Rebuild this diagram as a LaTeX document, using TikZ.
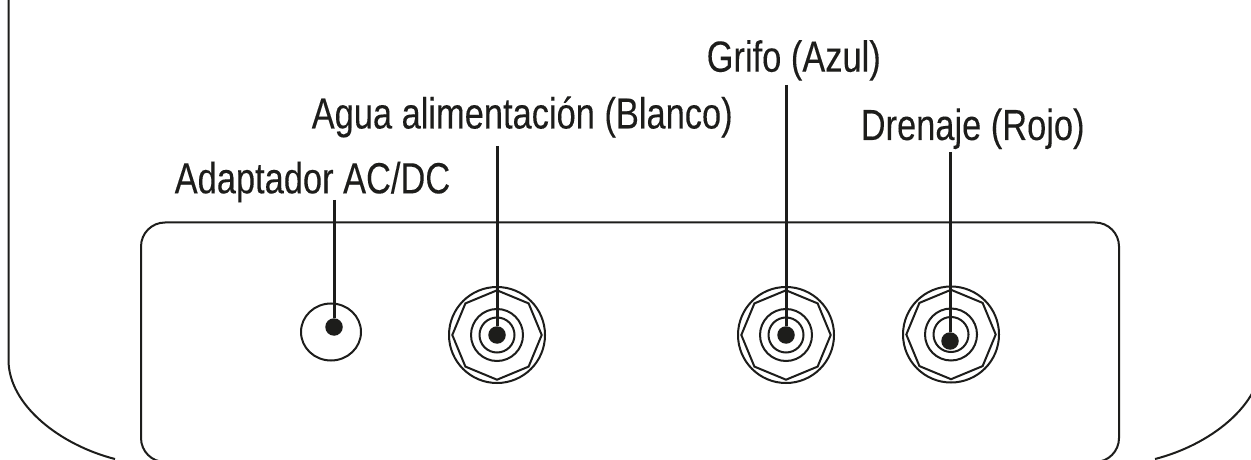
\documentclass[tikz,border=0pt]{standalone}
\usepackage{fontspec}
\setmainfont[FakeStretch=0.79,FakeBold=0.12]{Liberation Sans}
\usetikzlibrary{calc}
\definecolor{inkblack}{HTML}{1D1D1B}
\tikzset{
	thinline/.style={line width=0.2mm, color=inkblack},
	leader/.style={line width=0.3mm, color=inkblack},
	dotmark/.style={circle, fill=inkblack, inner sep=0pt, minimum size=0.175cm},
	caption/.style={anchor=base west, inner sep=0pt, text=inkblack, font=\fontsize{12.4pt}{14pt}\selectfont},
}
% fitting with its rings and the eight-sided nut
\def\fitting(#1){
	\draw[thinline] (#1) circle (0.48);
	\draw[thinline] (#1) circle (0.26);
	\draw[thinline] (#1) circle (0.175);
	\draw[thinline] ($(#1)+(0:0.447)$) \foreach \a in {45,90,...,315} { -- ($(#1)+(\a:0.447)$) } -- cycle;
}

\begin{document}
\begin{tikzpicture}
		%%%%% START %%%%%
		\useasboundingbox (0, 0) rectangle (12.51, 4.59);
		\clip (0, 0) rectangle (12.51, 4.59);
		
		% outer casing
		\draw[thinline] (0.085, 4.7) -- (0.085, 0.99) .. controls (0.085, 0.54) and (0.6, 0.14) .. (1.15, 0);
		\draw[thinline] (12.615, 0.99) .. controls (12.615, 0.54) and (12.1, 0.14) .. (11.55, 0);
		
		% back panel
		\draw[thinline, rounded corners=0.24cm] (1.41, 2.365) rectangle (11.19, -0.03);
		
		% adapter socket
		\draw[thinline] (3.31, 1.27) ellipse (0.30 and 0.285);
		
		\fitting(4.97, 1.24)
		\fitting(7.86, 1.24)
		\fitting(9.51, 1.245)
		
		\node[dotmark] (dotAdapter) at (3.34, 1.32) {};
		\node[dotmark] (dotFeed) at (4.97, 1.24) {};
		\node[dotmark] (dotTap) at (7.86, 1.24) {};
		\node[dotmark] (dotDrain) at (9.50, 1.18) {};
		
		\node[caption] (lblAdapter) at (1.74, 2.657) {Adaptador AC/DC};
		\node[caption] (lblFeed) at (3.11, 3.305) {Agua alimentación (Blanco)};
		\node[caption] (lblTap) at (7.06, 3.873) {Grifo (Azul)};
		\node[caption] (lblDrain) at (8.60, 3.19) {Drenaje (Rojo)};
		
		\coordinate (topAdapter) at (3.34, 2.59);
		\coordinate (topFeed) at (4.97, 3.13);
		\coordinate (topTap) at (7.86, 3.74);
		\coordinate (topDrain) at (9.50, 3.07);
		
		\draw[leader] (topAdapter) -- (dotAdapter);
		\draw[leader] (topFeed) -- (dotFeed);
		\draw[leader] (topTap) -- (dotTap);
		\draw[leader] (topDrain) -- (dotDrain);
		
		%%%%% END %%%%%
	\end{tikzpicture}
\end{document}
